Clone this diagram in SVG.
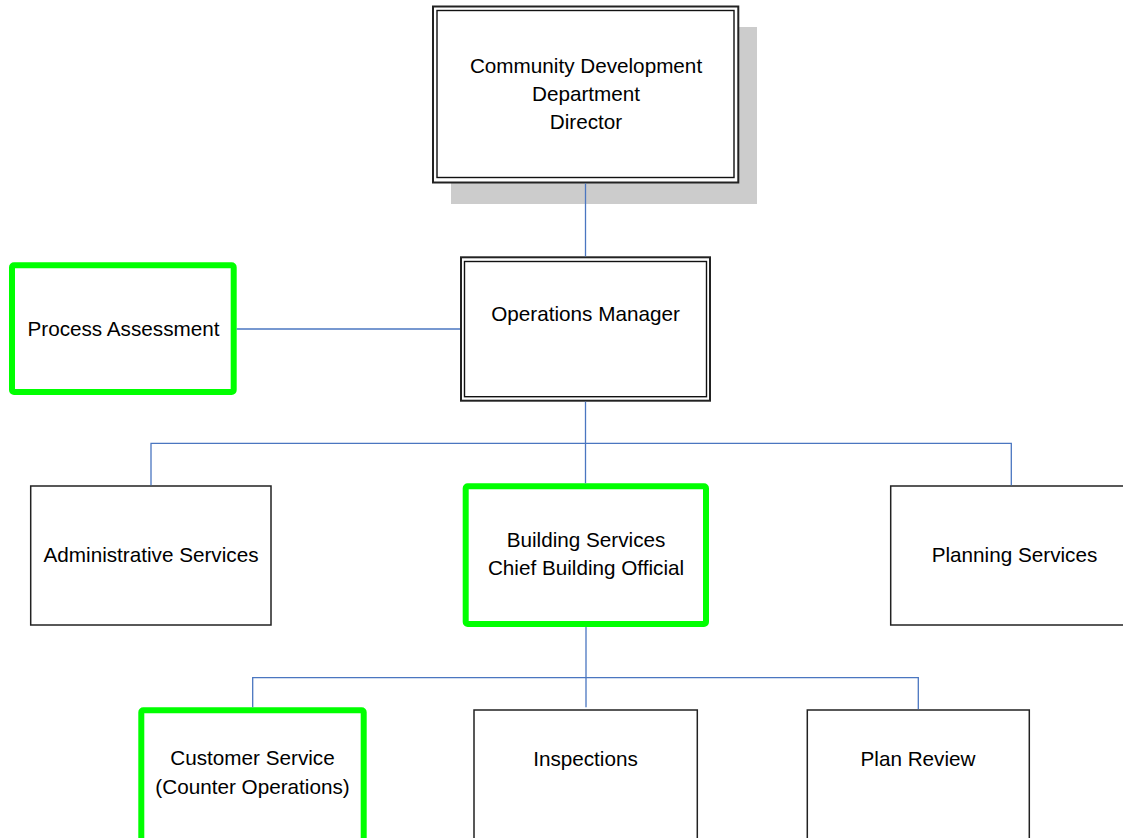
<svg xmlns="http://www.w3.org/2000/svg" width="1123" height="838" viewBox="0 0 1123 838">
  <style>
    .label { font-family: "Liberation Sans", Arial, sans-serif; font-size: 20.7px; fill: #000; text-anchor: middle; }
    .box { fill: #fff; stroke: #222; stroke-width: 1.5; }
    .outer { fill: #fff; stroke: #222; stroke-width: 2; }
    .inner { fill: none; stroke: #111; stroke-width: 1.4; }
    .hl { fill: #fff; stroke: #00ff00; stroke-width: 6; }
    .conn { fill: none; stroke: #4a76c0; stroke-width: 1.3; }
  </style>
  <rect width="1123" height="838" fill="#fff"/>

  <g id="director">
    <rect x="451" y="27" width="306" height="177" fill="#cccccc"/>
    <rect class="outer" x="433" y="6.5" width="305.3" height="176"/>
    <rect class="inner" x="437" y="10.5" width="297" height="167"/>
    <text class="label" x="586" y="72.5">Community Development</text>
    <text class="label" x="586" y="100.5">Department</text>
    <text class="label" x="586" y="128.5">Director</text>
  </g>

  <g id="operations-manager">
    <rect class="outer" x="461" y="257.3" width="249" height="143.4"/>
    <rect class="inner" x="464.5" y="261.5" width="242" height="135.2"/>
    <text class="label" x="585.5" y="320.5">Operations Manager</text>
  </g>

  <g id="process-assessment">
    <rect class="hl" x="12" y="265.3" width="221.7" height="126.7" rx="2"/>
    <text class="label" x="123.5" y="335.5">Process Assessment</text>
  </g>

  <g id="administrative-services">
    <rect class="box" x="30.7" y="486" width="240.3" height="139"/>
    <text class="label" x="151" y="562.3">Administrative Services</text>
  </g>

  <g id="building-services">
    <rect class="hl" x="465.7" y="486.3" width="240.3" height="137.7" rx="2"/>
    <text class="label" x="586" y="547.3">Building Services</text>
    <text class="label" x="586" y="575">Chief Building Official</text>
  </g>

  <g id="planning-services">
    <rect class="box" x="890.7" y="486" width="246" height="139"/>
    <text class="label" x="1014.5" y="561.7">Planning Services</text>
  </g>

  <g id="customer-service">
    <rect class="hl" x="141.3" y="710.3" width="222.4" height="140" rx="2"/>
    <text class="label" x="252.5" y="765">Customer Service</text>
    <text class="label" x="252.5" y="794">(Counter Operations)</text>
  </g>

  <g id="inspections">
    <rect class="box" x="474" y="710" width="223.3" height="140"/>
    <text class="label" x="585.5" y="765.7">Inspections</text>
  </g>

  <g id="plan-review">
    <rect class="box" x="807.3" y="710" width="222" height="140"/>
    <text class="label" x="918" y="765.7">Plan Review</text>
  </g>

  <!-- connectors drawn last so the director link shows over its drop shadow -->
  <g id="connectors">
    <path class="conn" d="M585.5 183.5 V256.3"/>
    <path class="conn" d="M236.7 329 H460"/>
    <path class="conn" d="M585.5 401.7 V483.3"/>
    <path class="conn" d="M151 485.2 V443.3 H1011.3 V485.2"/>
    <path class="conn" d="M586 627 V707.3"/>
    <path class="conn" d="M252.7 707.3 V677.7 H918.3 V709.2"/>
  </g>
</svg>
